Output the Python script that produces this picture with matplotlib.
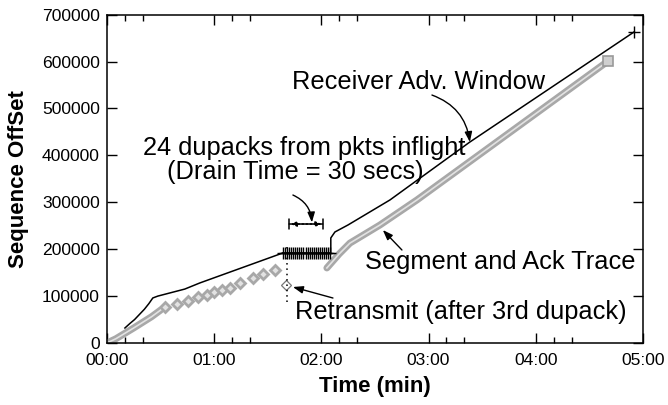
import matplotlib
matplotlib.use("Agg")
import matplotlib.pyplot as plt
from matplotlib.ticker import FixedLocator

plt.rcParams['font.family'] = ['Liberation Sans', 'DejaVu Sans']

# time in seconds, sequence offset in bytes
adv_win_t = [10.1, 13.0, 15.5, 18.5, 21.0, 23.5, 25.7, 28.5, 43.6, 52.0, 98.5]
adv_win_y = [32000, 42000, 50000, 62000, 72000, 84000, 96000, 100000, 115000, 128000, 192000]

dupack_t = [98.5, 99.6, 100.8, 102.0, 103.1, 104.3, 105.4, 106.6, 107.7, 108.9, 110.0, 111.2,
            112.3, 113.5, 114.6, 115.8, 116.9, 118.1, 119.2, 120.4, 121.5, 122.7, 123.8, 125.0]
dupack_y = [192000] * 24

adv_win2_t = [125.3, 125.3, 127.6, 134.9, 158.4, 203.1, 294.9]
adv_win2_y = [192000, 224000, 236700, 251600, 305000, 428500, 663000]

seg_dense_t = [0, 5, 15, 25, 30]
seg_dense_y = [0, 9000, 32000, 56000, 70000]

seg_diam_t = [32.5, 39.2, 45.3, 50.9, 56.0, 59.9, 64.4, 68.8, 74.4, 81.7, 87.3, 94.0]
seg_diam_y = [76800, 83100, 89500, 98100, 102300, 108700, 113000, 117300, 127900, 138600, 147100, 155600]

retx_t = [100.0]
retx_y = [124000]

seg2_t = [123.1, 130.0, 136.0, 152.8, 173.5, 280.4]
seg2_y = [160000, 190000, 213000, 251600, 305000, 601000]

xtick_pos = [0, 60, 120, 180, 240, 300]
xtick_lab = ["00:00", "01:00", "02:00", "03:00", "04:00", "05:00"]
xminor_pos = [10, 20, 70, 80, 130, 140, 190, 200, 250, 260]
ytick_pos = [0, 100000, 200000, 300000, 400000, 500000, 600000, 700000]

fig = plt.figure(figsize=(6.68, 4.05), dpi=100)
ax = fig.add_axes([0.160, 0.1531, 0.8026, 0.8106])

band = '#a8a8a8'
inner = '#e2e2e2'

# segment and ack trace
ax.plot(seg_dense_t, seg_dense_y, color=band, lw=5, solid_capstyle='round', zorder=2)
ax.plot(seg_dense_t, seg_dense_y, color=inner, lw=1.2, zorder=2.1)
ax.plot(seg_diam_t, seg_diam_y, ls='none', marker='D', ms=5.5, mfc=inner, mec=band, mew=2, zorder=2)
ax.plot(seg2_t, seg2_y, color=band, lw=5, solid_capstyle='round', zorder=2)
ax.plot(seg2_t, seg2_y, color=inner, lw=1.2, zorder=2.1)
ax.plot(seg2_t[-1:], seg2_y[-1:], ls='none', marker='s', ms=7, mfc='#cfcfcf', mec='#999999', mew=1.2, zorder=3)
ax.plot(retx_t, retx_y, ls='none', marker='D', ms=5, mfc='white', mec='#777777', mew=0.9, zorder=3)

# receiver advertised window
ax.plot(adv_win_t, adv_win_y, color='black', lw=1.1, zorder=4)
ax.plot(dupack_t, dupack_y, color='black', lw=1.1, marker='+', ms=9, mew=1.0, zorder=4)
ax.plot(adv_win2_t, adv_win2_y, color='black', lw=1.1, zorder=4)
ax.plot(adv_win2_t[-1:], adv_win2_y[-1:], ls='none', marker='+', ms=9, mew=1.0, color='black', zorder=4)

# drain time marks
ax.plot([100.7, 100.7], [88000, 209000], color='black', ls=(0, (1, 2.5)), lw=1.1, zorder=3)
ax.annotate('', xy=(100.4, 253700), xytext=(122.3, 253700),
            arrowprops=dict(arrowstyle='|-|,widthA=0.35,widthB=0.35', lw=1.1, color='black'))
ax.annotate('', xy=(101.2, 253700), xytext=(121.8, 253700),
            arrowprops=dict(arrowstyle='<|-|>,head_length=0.35,head_width=0.15', lw=1.1, ls=':', color='black'))

fs = 18.3
ax.text(103.5, 557000, "Receiver Adv. Window", fontsize=fs, ha='left', va='center')
ax.text(110.5, 415700, "24 dupacks from pkts inflight", fontsize=fs, ha='center', va='center')
ax.text(105.2, 364600, "(Drain Time = 30 secs)", fontsize=fs, ha='center', va='center')
ax.text(144.4, 172700, "Segment and Ack Trace", fontsize=fs, ha='left', va='center')
ax.text(105.2, 66100, "Retransmit (after 3rd dupack)", fontsize=fs, ha='left', va='center')

arw = dict(arrowstyle='-|>,head_length=0.6,head_width=0.22', lw=1.0, color='black', shrinkA=0, shrinkB=0)
ax.annotate('', xy=(203.1, 428500), xytext=(181.9, 528700),
            arrowprops=dict(connectionstyle='arc3,rad=-0.3', **arw))
ax.annotate('', xy=(114.7, 257000), xytext=(104.1, 315500),
            arrowprops=dict(connectionstyle='arc3,rad=-0.3', **arw))
ax.annotate('', xy=(154.4, 240900), xytext=(165.1, 198300), arrowprops=arw)
ax.annotate('', xy=(104.1, 119400), xytext=(126.5, 95900), arrowprops=arw)

ax.set_xlim(0, 300)
ax.set_ylim(0, 700000)
ax.xaxis.set_major_locator(FixedLocator(xtick_pos))
ax.set_xticklabels(xtick_lab)
ax.xaxis.set_minor_locator(FixedLocator(xminor_pos))
ax.yaxis.set_major_locator(FixedLocator(ytick_pos))
ax.set_yticklabels([str(v) for v in ytick_pos])
ax.tick_params(which='both', direction='in', top=True, right=True, labelsize=12.6, width=1.0)
ax.tick_params(axis='x', pad=7.5)
ax.tick_params(axis='y', pad=5)
ax.tick_params(which='major', length=7)
ax.tick_params(which='minor', length=4)
for s in ax.spines.values():
    s.set_linewidth(1.1)

ax.set_xlabel("Time (min)", fontsize=16, fontweight='bold', va='center')
ax.set_ylabel("Sequence OffSet", fontsize=16, fontweight='bold', va='center')
ax.xaxis.set_label_coords(0.5, -0.131)
ax.yaxis.set_label_coords(-0.164, 0.5)

fig.savefig("out.png", dpi=100)
